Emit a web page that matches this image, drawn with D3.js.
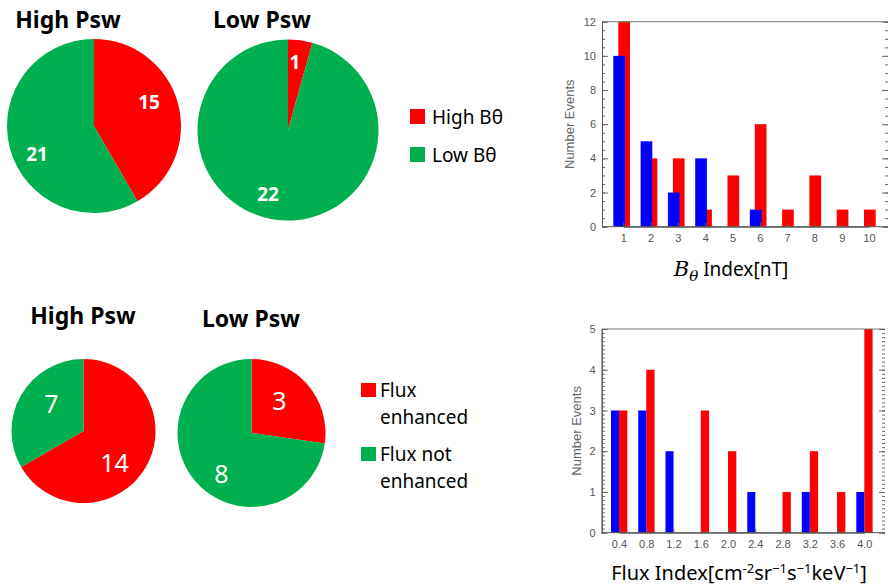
<!DOCTYPE html>
<html>
<head>
<meta charset="utf-8">
<script src="https://cdn.jsdelivr.net/npm/d3@7"></script>
<style>
  body { margin: 0; background: #fff; }
  svg { display: block; }
  .pie-title { font-family: "Noto Sans", sans-serif; font-weight: bold; font-size: 23px; fill: #000; }
  .legend-text { font-family: "Noto Sans", sans-serif; font-size: 19px; fill: #000; }
  .tick text { font-family: "Liberation Sans", sans-serif; font-size: 11px; fill: #555; }
  .ylab { font-family: "Liberation Sans", sans-serif; font-size: 13px; fill: #666; }
  .xtitle { font-family: "Noto Sans", sans-serif; font-size: 19px; fill: #000; }
</style>
</head>
<body>
<svg id="chart" width="890" height="587"></svg>
<script>
const red = '#ff0000';
const green = '#00b050';
const blue = '#0000ff';

// pies: [red, green]
const topHigh = [15, 21];
const topLow = [1, 22];
const bottomHigh = [14, 7];
const bottomLow = [3, 8];
const topLegend = ['High Bθ', 'Low Bθ'];
const bottomLegend = [['Flux', 'enhanced'], ['Flux not', 'enhanced']];

// histogram of B theta index
const bthetaBins = [1, 2, 3, 4, 5, 6, 7, 8, 9, 10];
const bthetaBlue = [10, 5, 2, 4, 0, 1, 0, 0, 0, 0];
const bthetaRed = [12, 4, 4, 1, 3, 6, 1, 3, 1, 1];

// histogram of flux index
const fluxBins = [0.4, 0.8, 1.2, 1.6, 2.0, 2.4, 2.8, 3.2, 3.6, 4.0];
const fluxBlue = [3, 3, 2, 0, 0, 1, 0, 1, 0, 1];
const fluxRed = [3, 4, 0, 3, 2, 0, 1, 2, 1, 5];

const svg = d3.select('#chart');

const drawPie = ({values, cx, cy, r, title, titleX, titleY, labels, labelSize, labelWeight}) => {
    const g = svg.append('g').attr('transform', `translate(${cx},${cy})`);
    const arcs = d3.pie().sort(null)(values);
    const arc = d3.arc().innerRadius(0).outerRadius(r);
    g.selectAll('path')
        .data(arcs)
        .enter()
        .append('path')
        .attr('d', arc)
        .attr('fill', (d, i) => i === 0 ? red : green);
    g.selectAll('text.val')
        .data(arcs)
        .enter()
        .append('text')
        .attr('class', 'val')
        .attr('x', (d, i) => labels[i][0])
        .attr('y', (d, i) => labels[i][1])
        .attr('text-anchor', 'middle')
        .attr('dominant-baseline', 'central')
        .style('font-family', '"Noto Sans", sans-serif')
        .style('font-size', labelSize + 'px')
        .style('font-weight', labelWeight)
        .style('fill', '#fff')
        .text(d => d.data);
    svg.append('text')
        .attr('class', 'pie-title')
        .attr('x', titleX)
        .attr('y', titleY)
        .attr('text-anchor', 'middle')
        .text(title);
};

drawPie({values: topHigh, cx: 94, cy: 126, r: 87, title: 'High Psw', titleX: 68, titleY: 28,
         labels: [[55, -24], [-57, 28]], labelSize: 19, labelWeight: 'bold'});
drawPie({values: topLow, cx: 288, cy: 130, r: 90.5, title: 'Low Psw', titleX: 262, titleY: 28,
         labels: [[7, -68], [-20, 64]], labelSize: 19, labelWeight: 'bold'});
drawPie({values: bottomHigh, cx: 83.5, cy: 431, r: 72, title: 'High Psw', titleX: 83, titleY: 324,
         labels: [[31, 31], [-32, -28]], labelSize: 25, labelWeight: 'normal'});
drawPie({values: bottomLow, cx: 251.5, cy: 433, r: 74, title: 'Low Psw', titleX: 251, titleY: 327,
         labels: [[28, -33], [-30, 40]], labelSize: 25, labelWeight: 'normal'});

// legends
const legTop = svg.append('g');
topLegend.forEach((name, i) => {
    legTop.append('rect').attr('x', 410).attr('y', 109 + i * 38).attr('width', 15).attr('height', 15)
        .attr('fill', i === 0 ? red : green);
    legTop.append('text').attr('class', 'legend-text').attr('x', 432).attr('y', 124 + i * 38).text(name);
});
const legBottom = svg.append('g');
bottomLegend.forEach((lines, i) => {
    legBottom.append('rect').attr('x', 361).attr('y', 383 + i * 64).attr('width', 15).attr('height', 14)
        .attr('fill', i === 0 ? red : green);
    lines.forEach((line, j) => {
        legBottom.append('text').attr('class', 'legend-text')
            .attr('x', 380).attr('y', 397 + i * 64 + j * 27).text(line);
    });
});

const drawHist = ({bins, blueVals, redVals, yMax, yMinor, box, xRange, blueOff, redOff, ylabX}) => {
    const x = d3.scaleLinear().domain([bins[0], bins[bins.length - 1]]).range(xRange);
    const y = d3.scaleLinear().domain([0, yMax]).range([box.bottom, box.top]);
    const g = svg.append('g');
    const bars = (vals, off, color) => {
        g.append('g').selectAll('rect')
            .data(bins.map((b, i) => ({b, v: vals[i]})).filter(d => d.v > 0))
            .enter()
            .append('rect')
            .attr('x', d => x(d.b) + off[0])
            .attr('width', off[1] - off[0])
            .attr('y', d => y(d.v))
            .attr('height', d => y(0) - y(d.v))
            .attr('fill', color);
    };
    bars(redVals, redOff, red);
    bars(blueVals, blueOff, blue);

    const minor = d3.range(0, yMax + 1e-9, yMinor);
    const axisStyle = sel => {
        sel.select('.domain').attr('stroke', '#555');
        sel.selectAll('.tick line').attr('stroke', '#666');
    };
    g.append('g').attr('transform', `translate(${box.left},0)`)
        .call(d3.axisLeft(y).tickValues(minor).tickSize(-3).tickFormat(''))
        .call(axisStyle);
    g.append('g').attr('transform', `translate(${box.left},0)`)
        .call(d3.axisLeft(y).ticks(yMax > 6 ? 6 : yMax).tickSize(-6).tickPadding(6).tickSizeOuter(0))
        .call(axisStyle);
    g.append('g').attr('transform', `translate(${box.right},0)`)
        .call(d3.axisRight(y).tickValues(minor).tickSize(-3).tickFormat(''))
        .call(axisStyle).select('.domain').remove();
    g.append('g').attr('transform', `translate(${box.right},0)`)
        .call(d3.axisRight(y).ticks(yMax > 6 ? 6 : yMax).tickSize(-6).tickFormat(''))
        .call(axisStyle).select('.domain').remove();
    g.append('g').attr('transform', `translate(0,${box.bottom})`)
        .call(d3.axisBottom(x).tickValues(bins).tickSize(-4).tickPadding(8).tickSizeOuter(0)
              .tickFormat(d => Number.isInteger(d) && bins[0] === 1 ? d : d.toFixed(1)))
        .call(axisStyle);
    g.append('line').attr('x1', box.left).attr('x2', box.right).attr('y1', box.bottom).attr('y2', box.bottom)
        .attr('stroke', '#555');
    g.append('line').attr('x1', box.left).attr('x2', box.right).attr('y1', box.top).attr('y2', box.top)
        .attr('stroke', '#777');
    svg.append('text').attr('class', 'ylab')
        .attr('transform', `translate(${ylabX},${(box.top + box.bottom) / 2}) rotate(-90)`)
        .attr('text-anchor', 'middle')
        .text('Number Events');
};

drawHist({bins: bthetaBins, blueVals: bthetaBlue, redVals: bthetaRed, yMax: 12, yMinor: 0.5,
          box: {left: 602, right: 888, top: 21.7, bottom: 226.7}, xRange: [623.3, 869],
          blueOff: [-10, 1.7], redOff: [-5, 6.7], ylabX: 574});
drawHist({bins: fluxBins, blueVals: fluxBlue, redVals: fluxRed, yMax: 5, yMinor: 0.1,
          box: {left: 601.7, right: 885, top: 329, bottom: 532.7}, xRange: [619, 864.3],
          blueOff: [-8, 0], redOff: [0, 8.3], ylabX: 581});

// axis titles
const t1 = svg.append('text').attr('class', 'xtitle').attr('x', 731).attr('y', 276).attr('text-anchor', 'middle');
t1.append('tspan').style('font-family', '"DejaVu Serif", serif').style('font-style', 'italic').style('font-size', '21px').text('B');
t1.append('tspan').style('font-family', '"DejaVu Serif", serif').style('font-style', 'italic').style('font-size', '15px')
    .attr('dy', 5).text('θ');
t1.append('tspan').attr('dy', -5).text(' Index[nT]');

const t2 = svg.append('text').attr('class', 'xtitle').attr('x', 739).attr('y', 580).attr('text-anchor', 'middle');
const fluxParts = [['Flux Index[cm', 0], ['-2', 1], ['sr', 0], ['−1', 1], ['s', 0], ['−1', 1], ['keV', 0], ['−1', 1], [']', 0]];
let prevSup = 0;
fluxParts.forEach(([txt, sup]) => {
    t2.append('tspan')
        .attr('dy', (prevSup - sup) * 7)
        .style('font-size', sup ? '13px' : '20px')
        .text(txt);
    prevSup = sup;
});
</script>
</body>
</html>
